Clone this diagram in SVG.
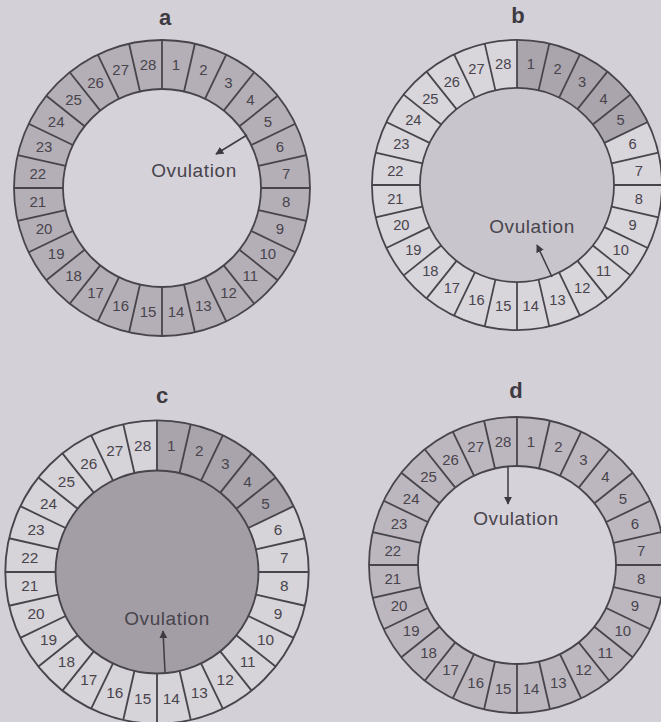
<svg xmlns="http://www.w3.org/2000/svg" xmlns:xlink="http://www.w3.org/1999/xlink" width="661" height="722" viewBox="0 0 661 722">
<style>
.bg{fill:#d4d0d7}
.ln{stroke:#48444b;stroke-width:1.8;fill:none}
.num{font-family:"Liberation Sans",Arial,sans-serif;font-size:15px;fill:#48444c;text-anchor:middle}
.ov{font-family:"Liberation Sans",Arial,sans-serif;font-size:19px;letter-spacing:0.6px;fill:#48444c;text-anchor:middle}
.lab{font-family:"Liberation Sans",Arial,sans-serif;font-size:22px;font-weight:bold;fill:#3e3a42;text-anchor:middle}
.arr{stroke:#3e3a42;stroke-width:1.5;fill:none;marker-end:url(#ah)}
</style>
<defs>
<marker id="ah" viewBox="0 0 10 10" refX="9" refY="5" markerWidth="8" markerHeight="8" markerUnits="userSpaceOnUse" orient="auto">
<path d="M0,0 L10,5 L0,10 Z" fill="#3e3a42"/>
</marker>
<path id="early" d="M0,-148 A148,148 0 0 1 133.35,-64.22 L89.2,-42.96 A99,99 0 0 0 0,-99 Z"/>
<g id="spokes" class="ln">
<circle r="148"/><circle r="99"/>
<line x1="0" y1="-99" x2="0" y2="-148"/>
<line x1="0" y1="-99" x2="0" y2="-148" transform="rotate(12.857)"/>
<line x1="0" y1="-99" x2="0" y2="-148" transform="rotate(25.714)"/>
<line x1="0" y1="-99" x2="0" y2="-148" transform="rotate(38.571)"/>
<line x1="0" y1="-99" x2="0" y2="-148" transform="rotate(51.429)"/>
<line x1="0" y1="-99" x2="0" y2="-148" transform="rotate(64.286)"/>
<line x1="0" y1="-99" x2="0" y2="-148" transform="rotate(77.143)"/>
<line x1="0" y1="-99" x2="0" y2="-148" transform="rotate(90)"/>
<line x1="0" y1="-99" x2="0" y2="-148" transform="rotate(102.857)"/>
<line x1="0" y1="-99" x2="0" y2="-148" transform="rotate(115.714)"/>
<line x1="0" y1="-99" x2="0" y2="-148" transform="rotate(128.571)"/>
<line x1="0" y1="-99" x2="0" y2="-148" transform="rotate(141.429)"/>
<line x1="0" y1="-99" x2="0" y2="-148" transform="rotate(154.286)"/>
<line x1="0" y1="-99" x2="0" y2="-148" transform="rotate(167.143)"/>
<line x1="0" y1="-99" x2="0" y2="-148" transform="rotate(180)"/>
<line x1="0" y1="-99" x2="0" y2="-148" transform="rotate(192.857)"/>
<line x1="0" y1="-99" x2="0" y2="-148" transform="rotate(205.714)"/>
<line x1="0" y1="-99" x2="0" y2="-148" transform="rotate(218.571)"/>
<line x1="0" y1="-99" x2="0" y2="-148" transform="rotate(231.429)"/>
<line x1="0" y1="-99" x2="0" y2="-148" transform="rotate(244.286)"/>
<line x1="0" y1="-99" x2="0" y2="-148" transform="rotate(257.143)"/>
<line x1="0" y1="-99" x2="0" y2="-148" transform="rotate(270)"/>
<line x1="0" y1="-99" x2="0" y2="-148" transform="rotate(282.857)"/>
<line x1="0" y1="-99" x2="0" y2="-148" transform="rotate(295.714)"/>
<line x1="0" y1="-99" x2="0" y2="-148" transform="rotate(308.571)"/>
<line x1="0" y1="-99" x2="0" y2="-148" transform="rotate(321.429)"/>
<line x1="0" y1="-99" x2="0" y2="-148" transform="rotate(334.286)"/>
<line x1="0" y1="-99" x2="0" y2="-148" transform="rotate(347.143)"/>
</g>
<g id="nums" class="num">
<text x="14" y="-118.5">1</text>
<text x="41.3" y="-112.8">2</text>
<text x="66.5" y="-100.5">3</text>
<text x="88.4" y="-83">4</text>
<text x="105.8" y="-61.5">5</text>
<text x="118" y="-36.3">6</text>
<text x="124.2" y="-9">7</text>
<text x="124.2" y="19">8</text>
<text x="118" y="46.3">9</text>
<text x="105.8" y="71">10</text>
<text x="88.4" y="93">11</text>
<text x="66.5" y="110">12</text>
<text x="41.3" y="122.5">13</text>
<text x="14" y="128.5">14</text>
<text x="-14" y="128.5">15</text>
<text x="-41.3" y="122.5">16</text>
<text x="-66.5" y="110">17</text>
<text x="-88.4" y="93">18</text>
<text x="-105.8" y="71">19</text>
<text x="-118" y="46.3">20</text>
<text x="-124.2" y="19">21</text>
<text x="-124.2" y="-9">22</text>
<text x="-118" y="-36.3">23</text>
<text x="-105.8" y="-61.5">24</text>
<text x="-88.4" y="-83">25</text>
<text x="-66.5" y="-100.5">26</text>
<text x="-41.3" y="-112.8">27</text>
<text x="-14" y="-118.5">28</text>
</g>
</defs>
<rect class="bg" x="0" y="0" width="661" height="722"/>

<g id="ring-a" transform="translate(162,188)">
<circle r="148" fill="#b4afb7"/>
<circle r="99" fill="#d6d2d9"/>
<use xlink:href="#spokes"/>
<use xlink:href="#nums"/>
</g>
<g id="ring-b" transform="translate(517,185) scale(0.98)">
<circle r="148" fill="#d8d5db"/>
<use xlink:href="#early" fill="#aaa5ad"/>
<circle r="99" fill="#c9c5cc"/>
<use xlink:href="#spokes"/>
<use xlink:href="#nums"/>
</g>
<g id="ring-c" transform="translate(157,572) scale(1.025)">
<circle r="148" fill="#d6d3d9"/>
<use xlink:href="#early" fill="#a9a4ac"/>
<circle r="99" fill="#a39ea6"/>
<use xlink:href="#spokes"/>
<use xlink:href="#nums"/>
</g>
<g id="ring-d" transform="translate(517,565)">
<circle r="148" fill="#bcb7bf"/>
<circle r="99" fill="#d6d2d9"/>
<use xlink:href="#spokes"/>
<use xlink:href="#nums"/>
</g>

<g id="labels">
<text class="lab" x="165" y="25">a</text>
<text class="lab" x="518" y="23">b</text>
<text class="lab" x="162" y="403">c</text>
<text class="lab" x="516" y="398">d</text>
</g>

<g id="ovulation-text">
<text class="ov" x="194" y="177">Ovulation</text>
<text class="ov" x="532" y="233">Ovulation</text>
<text class="ov" x="167" y="625">Ovulation</text>
<text class="ov" x="516" y="525">Ovulation</text>
</g>

<g id="connectors">
<line class="arr" x1="247" y1="135" x2="216" y2="154"/>
<line class="arr" x1="552" y1="277" x2="537" y2="245"/>
<line class="arr" x1="165" y1="672" x2="163" y2="631"/>
<line class="arr" x1="508" y1="466" x2="508" y2="504"/>
</g>
</svg>
